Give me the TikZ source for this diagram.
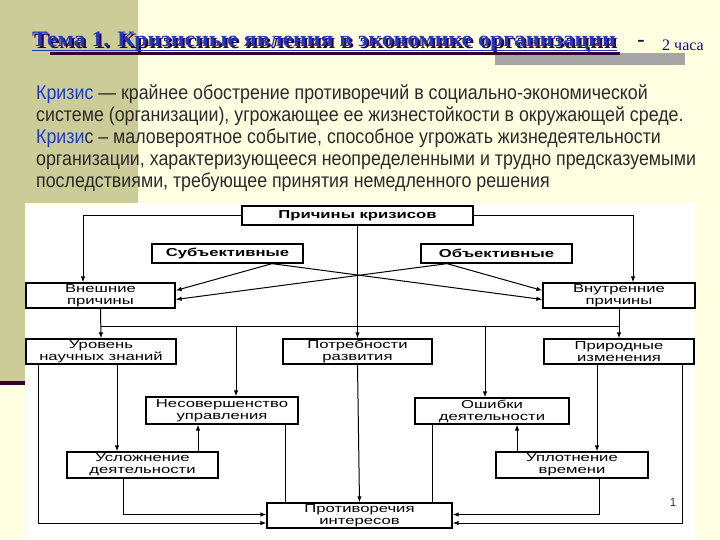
\documentclass[tikz,border=0pt]{standalone}
\usepackage{fontspec}
\setmainfont{Liberation Serif}
\newfontfamily\titlefont[FakeStretch=1.08]{Liberation Serif}
\newfontfamily\bodyfont[FakeStretch=0.89]{Liberation Sans}
\newfontfamily\boxfont[FakeStretch=1.45]{Liberation Sans}
\usetikzlibrary{arrows.meta,calc}

\definecolor{slidebg}{HTML}{FFFFE1}
\definecolor{khaki}{HTML}{CCCC99}
\definecolor{plum}{HTML}{330033}
\definecolor{titleblue}{HTML}{2038C0}
\definecolor{termblue}{HTML}{1E3CC8}
\definecolor{bodygray}{HTML}{2A2A2A}

\tikzset{
  cause/.style={draw=black, line width=1.3pt, fill=white, align=center, inner sep=0pt,
    font=\boxfont\fontsize{11.5}{12}\selectfont},
  causebold/.style={cause, font=\boxfont\bfseries\fontsize{11.5}{12}\selectfont},
  link/.style={line width=1pt},
  arr/.style={link, -{Latex[length=6pt,width=4.5pt]}},
  bodyline/.style={anchor=base west, inner sep=0pt, text=bodygray,
    font=\bodyfont\fontsize{20}{22}\selectfont}
}

\begin{document}
\begin{tikzpicture}[x=1pt, y=-1pt]
  \useasboundingbox (0,0) rectangle (720,540);
  % slide background
  \fill[slidebg] (0,0) rectangle (720,540);
  \fill[khaki] (0,0) rectangle (138,381);
  \fill[plum] (0,381) rectangle (138,385);
  \fill[black!35] (495,53) rectangle (685,65);

  % title
  \node[anchor=base west, inner sep=0pt, text=plum, font=\titlefont\bfseries\fontsize{22}{24}\selectfont]
    (titleshadow) at (34,49) {Тема 1. Кризисные явления в экономике организации};
  \node[anchor=base west, inner sep=0pt, text=titleblue, font=\titlefont\bfseries\fontsize{22}{24}\selectfont]
    (title) at (32,47) {Тема 1. Кризисные явления в экономике организации};
  \draw[plum, line width=3pt] (50,53.5) -- (620,53.5);
  \draw[titleblue, line width=1.2pt] (32,50.5) -- (617,50.5);
  \node[anchor=base, inner sep=0pt, text=plum, font=\bfseries\fontsize{22}{24}\selectfont]
    (dash) at (641,47) {-};
  \node[anchor=base west, inner sep=0pt, text=plum!60!blue, font=\fontsize{16}{18}\selectfont]
    (hours) at (662,51) {2 часа};

  % definitions
  \node[bodyline] (def1) at (36,100) {{\color{termblue}Кризис} — крайнее обострение противоречий в социально-экономической};
  \node[bodyline] (def2) at (36,122) {системе (организации), угрожающее ее жизнестойкости в окружающей среде.};
  \node[bodyline] (def3) at (36,144) {{\color{termblue}Кризи}с – маловероятное событие, способное угрожать жизнедеятельности};
  \node[bodyline] (def4) at (36,166) {организации, характеризующееся неопределенными и трудно предсказуемыми};
  \node[bodyline] (def5) at (36,188) {последствиями, требующее принятия немедленного решения};

  % scheme of causes
  \fill[white] (25,203) rectangle (695,540);
  \node[causebold, minimum width=231pt, minimum height=19pt] (prich) at (357.5,215.5) {Причины кризисов};
  \node[causebold, minimum width=151pt, minimum height=19pt] (subj) at (227.5,253.5) {Субъективные};
  \node[causebold, minimum width=151pt, minimum height=19pt] (obj) at (496.5,253.5) {Объективные};
  \node[cause, minimum width=149pt, minimum height=25pt] (vnesh) at (100.5,295.5) {Внешние\\причины};
  \node[cause, minimum width=152pt, minimum height=25pt] (vnutr) at (619,295.5) {Внутренние\\причины};
  \node[cause, minimum width=150pt, minimum height=25pt] (urov) at (101,351.5) {Уровень\\научных знаний};
  \node[cause, minimum width=149pt, minimum height=25pt] (potr) at (357.5,351.5) {Потребности\\развития};
  \node[cause, minimum width=150pt, minimum height=25pt] (prir) at (619,351.5) {Природные\\изменения};
  \node[cause, minimum width=152pt, minimum height=27pt] (nesov) at (222,410.5) {Несовершенство\\управления};
  \node[cause, minimum width=154pt, minimum height=26pt] (oshib) at (492,411) {Ошибки\\деятельности};
  \node[cause, minimum width=151pt, minimum height=26pt] (uslozh) at (142.5,465) {Усложнение\\деятельности};
  \node[cause, minimum width=152pt, minimum height=26pt] (uplot) at (572,465) {Уплотнение\\времени};
  \node[cause, minimum width=185pt, minimum height=25pt] (protiv) at (359.5,515.5) {Противоречия\\интересов};

  % from the top box
  \draw[arr] (prich.west) -| ([xshift=-17.5pt]vnesh.north);
  \draw[arr] (prich.east) -| ([xshift=14pt]vnutr.north);
  \draw[arr] (prich.south) -- (potr.north);
  % crossing lines
  \coordinate (subjfoot) at ([xshift=44.5pt]subj.south);
  \coordinate (objfoot) at ([xshift=-49.5pt]obj.south);
  \draw[arr] (subjfoot) -- ([yshift=5pt]vnesh.east);
  \draw[arr] (subjfoot) -- ([yshift=-4pt]vnutr.west);
  \draw[arr] (objfoot) -- ([yshift=5pt]vnutr.west);
  \draw[arr] (objfoot) -- ([yshift=-4pt]vnesh.east);
  % second row
  \draw[arr] (vnesh.south) -- (urov.north);
  \draw[arr] (vnutr.south) -- (prir.north);
  \coordinate (bus) at ($(vnesh.south)!.6!(urov.north)$);
  \draw[link] (bus) -- (bus -| vnutr.south);
  \coordinate (nesovin) at ([xshift=14pt]nesov.north);
  \coordinate (oshibin) at ([xshift=-7pt]oshib.north);
  \draw[arr] (bus -| nesovin) -- (nesovin);
  \draw[arr] (bus -| oshibin) -- (oshibin);
  % left branch
  \coordinate (uslozhin) at ([xshift=-25.5pt]uslozh.north);
  \coordinate (uslozhout) at ([xshift=55.5pt]uslozh.north);
  \coordinate (nesovout) at ([xshift=63pt]nesov.south);
  \draw[arr] (uslozhin |- urov.south) -- (uslozhin);
  \draw[arr] (uslozhout) -- (uslozhout |- nesov.south);
  \draw[link] (nesovout) -- (nesovout |- protiv.north);
  \draw[arr] ([xshift=-63pt]urov.south) |- ([yshift=-7.5pt]protiv.west);
  \draw[arr] ([xshift=-19.5pt]uslozh.south) |- ([yshift=1pt]protiv.west);
  % right branch
  \coordinate (uplotin) at ([xshift=25pt]uplot.north);
  \coordinate (uplotout) at ([xshift=-55pt]uplot.north);
  \coordinate (oshibout) at ([xshift=-60pt]oshib.south);
  \draw[arr] (uplotin |- prir.south) -- (uplotin);
  \draw[arr] (uplotout) -- (uplotout |- oshib.south);
  \draw[link] (oshibout) -- (oshibout |- protiv.north);
  \draw[arr] ([xshift=63pt]prir.south) |- ([yshift=-7.5pt]protiv.east);
  \draw[arr] ([xshift=27pt]uplot.south) |- ([yshift=1pt]protiv.east);
  % middle
  \draw[arr] (potr.south) -- (protiv.north);

  \node[font=\bodyfont\fontsize{12}{14}\selectfont, text=bodygray] (pagenum) at (673,502) {1};
\end{tikzpicture}
\end{document}
